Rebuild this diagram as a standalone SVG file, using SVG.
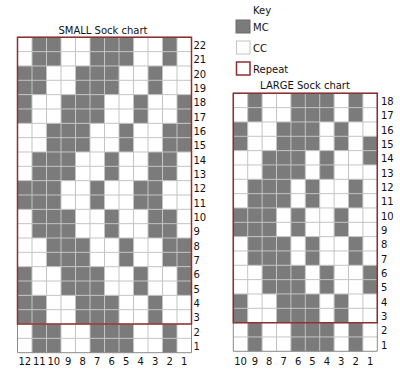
<svg xmlns="http://www.w3.org/2000/svg" width="400" height="371" viewBox="0 0 400 371">
<style>
text{font-family:"DejaVu Sans","Verdana","Liberation Sans",sans-serif;font-size:10px;fill:#111}
.t{font-size:10px}
.c{text-anchor:middle}
.mc{fill:#7b7b7b}
.grid{fill:none;stroke:#c4c4c4;stroke-width:1}
.frame{fill:none;stroke:#8a8a8a;stroke-width:1}
.rep{fill:none;stroke:#8e2f2f;stroke-width:1.5}
</style>
<rect width="400" height="371" fill="#fff"/>

<g id="small-chart">
<text class="t c" x="103" y="33.5">SMALL Sock chart</text>
<g transform="translate(17.5,37.3) scale(14.5,14.336)">
<rect width="12" height="22" fill="#fff"/>
<g class="mc">
<rect x="1" y="0" width="2" height="2"/><rect x="5" y="0" width="3" height="2"/><rect x="10" y="0" width="1" height="2"/>
<rect x="0" y="2" width="2" height="2"/><rect x="4" y="2" width="3" height="2"/><rect x="9" y="2" width="1" height="2"/>
<rect x="0" y="4" width="1" height="2"/><rect x="3" y="4" width="3" height="2"/><rect x="8" y="4" width="1" height="2"/><rect x="11" y="4" width="1" height="2"/>
<rect x="2" y="6" width="3" height="2"/><rect x="7" y="6" width="1" height="2"/><rect x="10" y="6" width="2" height="2"/>
<rect x="1" y="8" width="3" height="2"/><rect x="6" y="8" width="1" height="2"/><rect x="9" y="8" width="2" height="2"/>
<rect x="0" y="10" width="3" height="2"/><rect x="5" y="10" width="1" height="2"/><rect x="8" y="10" width="2" height="2"/>
<rect x="1" y="12" width="3" height="2"/><rect x="6" y="12" width="1" height="2"/><rect x="9" y="12" width="2" height="2"/>
<rect x="2" y="14" width="3" height="2"/><rect x="7" y="14" width="1" height="2"/><rect x="10" y="14" width="2" height="2"/>
<rect x="0" y="16" width="1" height="2"/><rect x="3" y="16" width="3" height="2"/><rect x="8" y="16" width="1" height="2"/><rect x="11" y="16" width="1" height="2"/>
<rect x="0" y="18" width="2" height="2"/><rect x="4" y="18" width="3" height="2"/><rect x="9" y="18" width="1" height="2"/>
<rect x="1" y="20" width="2" height="2"/><rect x="5" y="20" width="3" height="2"/><rect x="10" y="20" width="1" height="2"/>
</g>
<path class="grid" vector-effect="non-scaling-stroke" d="M1 0V22M2 0V22M3 0V22M4 0V22M5 0V22M6 0V22M7 0V22M8 0V22M9 0V22M10 0V22M11 0V22M0 1H12M0 2H12M0 3H12M0 4H12M0 5H12M0 6H12M0 7H12M0 8H12M0 9H12M0 10H12M0 11H12M0 12H12M0 13H12M0 14H12M0 15H12M0 16H12M0 17H12M0 18H12M0 19H12M0 20H12M0 21H12"/>
<rect class="frame" vector-effect="non-scaling-stroke" width="12" height="22"/>
<rect class="rep" vector-effect="non-scaling-stroke" width="12" height="20"/>
</g>
<g>
<text x="193.5" y="49">22</text><text x="193.5" y="63.3">21</text><text x="193.5" y="77.7">20</text><text x="193.5" y="92">19</text>
<text x="193.5" y="106.3">18</text><text x="193.5" y="120.7">17</text><text x="193.5" y="135">16</text><text x="193.5" y="149.4">15</text>
<text x="193.5" y="163.7">14</text><text x="193.5" y="178">13</text><text x="193.5" y="192.4">12</text><text x="193.5" y="206.7">11</text>
<text x="193.5" y="221">10</text><text x="193.5" y="235.4">9</text><text x="193.5" y="249.7">8</text><text x="193.5" y="264">7</text>
<text x="193.5" y="278.4">6</text><text x="193.5" y="292.7">5</text><text x="193.5" y="307">4</text><text x="193.5" y="321.4">3</text>
<text x="193.5" y="335.7">2</text><text x="193.5" y="350.1">1</text>
</g>
<g class="c">
<text class="c" x="24.75" y="365">12</text><text class="c" x="39.25" y="365">11</text><text class="c" x="53.75" y="365">10</text><text class="c" x="68.25" y="365">9</text>
<text class="c" x="82.75" y="365">8</text><text class="c" x="97.25" y="365">7</text><text class="c" x="111.75" y="365">6</text><text class="c" x="126.25" y="365">5</text>
<text class="c" x="140.75" y="365">4</text><text class="c" x="155.25" y="365">3</text><text class="c" x="169.75" y="365">2</text><text class="c" x="184.25" y="365">1</text>
</g>
</g>

<g id="key">
<text x="253" y="14">Key</text>
<rect x="236" y="20" width="14" height="13" fill="#7b7b7b" stroke="#6a6a6a" stroke-width="1"/>
<text x="253" y="30.5">MC</text>
<rect x="236.5" y="41" width="13.5" height="13" fill="#fff" stroke="#c4c4c4" stroke-width="1"/>
<text x="253" y="52">CC</text>
<rect x="236.5" y="62" width="13.5" height="13" fill="#fff" stroke="#8e2f2f" stroke-width="1.5"/>
<text x="253" y="73">Repeat</text>
</g>

<g id="large-chart">
<text class="t c" x="305" y="89">LARGE Sock chart</text>
<g transform="translate(233.3,93.3) scale(14.4,14.333)">
<rect width="10" height="18" fill="#fff"/>
<g class="mc">
<rect x="1" y="0" width="1" height="2"/><rect x="4" y="0" width="3" height="2"/><rect x="8" y="0" width="1" height="2"/>
<rect x="0" y="2" width="1" height="2"/><rect x="3" y="2" width="3" height="2"/><rect x="7" y="2" width="1" height="2"/><rect x="9" y="3" width="1" height="2"/>
<rect x="2" y="4" width="3" height="2"/><rect x="6" y="4" width="1" height="2"/>
<rect x="1" y="6" width="3" height="2"/><rect x="5" y="6" width="1" height="2"/><rect x="8" y="6" width="1" height="2"/>
<rect x="0" y="8" width="3" height="2"/><rect x="4" y="8" width="1" height="2"/><rect x="7" y="8" width="1" height="2"/>
<rect x="1" y="10" width="3" height="2"/><rect x="5" y="10" width="1" height="2"/><rect x="8" y="10" width="1" height="2"/>
<rect x="2" y="12" width="3" height="2"/><rect x="6" y="12" width="1" height="2"/><rect x="9" y="12" width="1" height="2"/>
<rect x="0" y="14" width="1" height="2"/><rect x="3" y="14" width="3" height="2"/><rect x="7" y="14" width="1" height="2"/>
<rect x="1" y="16" width="1" height="2"/><rect x="4" y="16" width="3" height="2"/><rect x="8" y="16" width="1" height="2"/>
</g>
<path class="grid" vector-effect="non-scaling-stroke" d="M1 0V18M2 0V18M3 0V18M4 0V18M5 0V18M6 0V18M7 0V18M8 0V18M9 0V18M0 1H10M0 2H10M0 3H10M0 4H10M0 5H10M0 6H10M0 7H10M0 8H10M0 9H10M0 10H10M0 11H10M0 12H10M0 13H10M0 14H10M0 15H10M0 16H10M0 17H10"/>
<rect class="frame" vector-effect="non-scaling-stroke" width="10" height="18"/>
<rect class="rep" vector-effect="non-scaling-stroke" width="10" height="16"/>
</g>
<g>
<text x="381" y="105">18</text><text x="381" y="119.3">17</text><text x="381" y="133.6">16</text><text x="381" y="148">15</text>
<text x="381" y="162.3">14</text><text x="381" y="176.6">13</text><text x="381" y="191">12</text><text x="381" y="205.3">11</text>
<text x="381" y="219.6">10</text><text x="381" y="234">9</text><text x="381" y="248.3">8</text><text x="381" y="262.6">7</text>
<text x="381" y="277">6</text><text x="381" y="291.3">5</text><text x="381" y="305.6">4</text><text x="381" y="320">3</text>
<text x="381" y="334.3">2</text><text x="381" y="348.6">1</text>
</g>
<g>
<text class="c" x="240.5" y="365">10</text><text class="c" x="254.9" y="365">9</text><text class="c" x="269.3" y="365">8</text><text class="c" x="283.7" y="365">7</text>
<text class="c" x="298.1" y="365">6</text><text class="c" x="312.5" y="365">5</text><text class="c" x="326.9" y="365">4</text><text class="c" x="341.3" y="365">3</text>
<text class="c" x="355.7" y="365">2</text><text class="c" x="370.1" y="365">1</text>
</g>
</g>
</svg>
